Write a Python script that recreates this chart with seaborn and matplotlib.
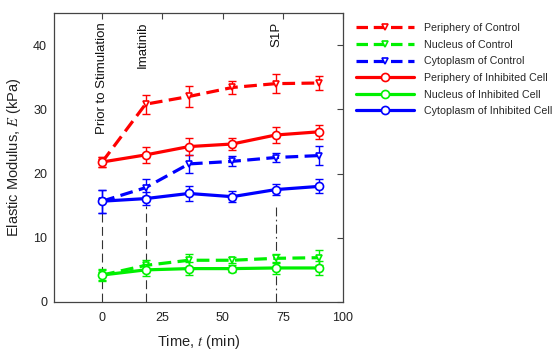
import matplotlib
matplotlib.use("Agg")
import matplotlib.pyplot as plt
from matplotlib import font_manager
from matplotlib.lines import Line2D
import seaborn as sns
import pandas as pd

times = [0, 18, 36, 54, 72, 90]

periph_ctrl = [21.8, 30.8, 32.0, 33.4, 34.0, 34.1]
periph_ctrl_err = [0.8, 1.5, 1.6, 1.0, 1.5, 1.1]
nuc_ctrl = [4.2, 5.7, 6.5, 6.5, 6.8, 6.9]
nuc_ctrl_err = [0.8, 0.9, 1.0, 0.5, 0.7, 1.2]
cyto_ctrl = [15.7, 17.8, 21.5, 21.9, 22.5, 22.8]
cyto_ctrl_err = [1.8, 1.3, 1.4, 0.8, 0.75, 1.5]
periph_inh = [21.8, 22.9, 24.2, 24.6, 26.0, 26.5]
periph_inh_err = [0.8, 1.3, 1.3, 1.0, 1.2, 1.1]
nuc_inh = [4.2, 5.0, 5.2, 5.2, 5.3, 5.3]
nuc_inh_err = [0.9, 0.9, 1.0, 0.5, 0.9, 1.1]
cyto_inh = [15.7, 16.1, 16.9, 16.4, 17.5, 18.0]
cyto_inh_err = [1.8, 1.0, 1.1, 0.9, 0.9, 1.1]

labels = ["Periphery of Control", "Nucleus of Control", "Cytoplasm of Control",
          "Periphery of Inhibited Cell", "Nucleus of Inhibited Cell",
          "Cytoplasm of Inhibited Cell"]

events_x = [0, 18, 72]
events_label = ["Prior to Stimulation", "Imatinib", "S1P"]
events_text_x = [0, 17, 72.5]

xticks = [0, 25, 50, 75, 100]
yticks = [0, 10, 20, 30, 40]

sns.set_style("white")
avail = {f.name for f in font_manager.fontManager.ttflist}
fam = ["Liberation Sans Narrow", "Liberation Sans", "DejaVu Sans"]
fam = [f for f in fam if f in avail] or ["DejaVu Sans"]
plt.rcParams["font.family"] = fam
plt.rcParams["mathtext.fontset"] = "stix"

fig = plt.figure(figsize=(5.53, 3.5), dpi=100)
ax = fig.add_axes([54 / 553, 48 / 350, (343 - 54) / 553, (302 - 13) / 350])

series = [
    (periph_ctrl, periph_ctrl_err, "#ff0000", "v", True),
    (nuc_ctrl, nuc_ctrl_err, "#00f000", "v", True),
    (cyto_ctrl, cyto_ctrl_err, "#0000ff", "v", True),
    (periph_inh, periph_inh_err, "#ff0000", "o", False),
    (nuc_inh, nuc_inh_err, "#00f000", "o", False),
    (cyto_inh, cyto_inh_err, "#0000ff", "o", False),
]

# reference lines
for ex in events_x:
    ls = (0, (8, 4)) if ex != 72 else (0, (8, 3, 1.5, 3))
    ax.plot([ex, ex], [0, 15], color="#333333", lw=0.8, linestyle=ls, zorder=1)

handles = []
for (vals, errs, col, mk, dashed), lab in zip(series, labels):
    df = pd.DataFrame({"t": times, "E": vals})
    ms = 4.8 if mk == "v" else 5.8
    z = 3 if dashed else 4
    ax.errorbar(times, vals, yerr=errs, fmt="none", ecolor=col, elinewidth=1.0,
                capsize=3, capthick=1.0, zorder=z)
    sns.lineplot(data=df, x="t", y="E", ax=ax, color=col, marker=mk,
                 markersize=ms, markerfacecolor="white", markeredgecolor=col,
                 markeredgewidth=1.2, lw=2.3, zorder=z + 0.5, legend=False)
    ln = ax.lines[-1]
    if dashed:
        ln.set_dashes((4.0, 2.0))
    h = Line2D([], [], color=col, lw=2.3, marker=mk, markersize=ms,
               markerfacecolor="white", markeredgecolor=col, markeredgewidth=1.2)
    if dashed:
        h.set_dashes((3.6, 1.8))
    handles.append(h)

for tx, lab in zip(events_text_x, events_label):
    ax.text(tx, 43.6, lab, rotation=90, ha="center", va="top", fontsize=9.5,
            color="#111111")

ax.set_xlim(-20, 100)
ax.set_ylim(0, 45)
ax.set_xticks(xticks)
ax.set_yticks(yticks)
ax.tick_params(direction="in", length=4, width=0.8, color="#444444",
               labelsize=9, top=True, right=True, labelcolor="#222222", pad=5)
ax.tick_params(axis="x", pad=7)
for s in ax.spines.values():
    s.set_color("#444444")
    s.set_linewidth(0.9)
    s.set_visible(True)

ax.set_xlabel("Time, $\\mathit{t}$ (min)", fontsize=10.5, color="#222222", labelpad=7)
ax.set_ylabel("Elastic Modulus, $\\mathit{E}$ (kPa)", fontsize=10.5, color="#222222",
              labelpad=7)

fig.legend(handles, labels, loc="upper left", bbox_to_anchor=(356 / 553, 1 - 23 / 350),
           frameon=False, fontsize=7.7, handlelength=5.4, handletextpad=1.0,
           labelspacing=0.62, borderaxespad=0, borderpad=0)

fig.savefig("out.png", dpi=100)
